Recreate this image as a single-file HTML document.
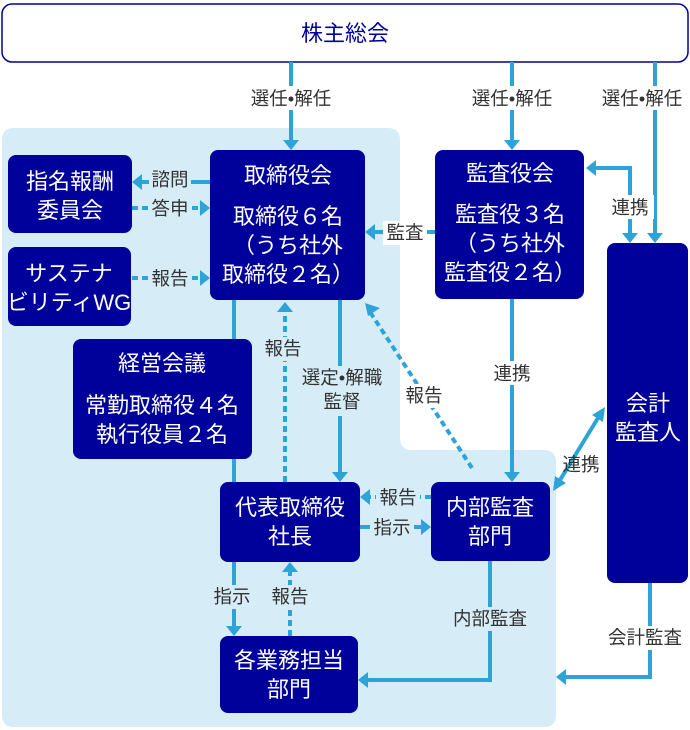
<!DOCTYPE html>
<html><head><meta charset="utf-8"><style>
html,body{margin:0;padding:0;background:#fff}
svg{display:block}
.b{fill:#00009a}
.w{fill:#fff;font-family:"Liberation Sans","Noto Sans CJK JP",sans-serif;font-size:22px;text-anchor:middle}
.l{fill:#333;font-family:"Liberation Sans","Noto Sans CJK JP",sans-serif;font-size:18.5px;text-anchor:middle}
.s{stroke:#2ea3d8;stroke-width:4;fill:none}
.d{stroke:#2ea3d8;stroke-width:4;fill:none;stroke-dasharray:6 4}
.a{fill:#2ea3d8}
</style></head><body>
<svg width="690" height="730" viewBox="0 0 690 730">
<path d="M14 128 H388 Q400 128 400 140 V438 Q400 450 412 450 H544 Q556 450 556 462 V715 Q556 727 544 727 H14 Q2 727 2 715 V140 Q2 128 14 128Z" fill="#d6ecf7"/>
<rect x="2" y="4" width="686" height="58" rx="10" fill="#fff" stroke="#00009a" stroke-width="1.5"/>
<text class="w" x="345" y="41" style="fill:#00009a">株主総会</text>

<g>
<path class="s" d="M291 62V142"/><path class="a" d="M283 140h16l-8 10z"/>
<path class="s" d="M512 62V142"/><path class="a" d="M504 140h16l-8 10z"/>
<path class="s" d="M655 62V235"/><path class="a" d="M647 233h16l-8 10z"/>
<path class="s" d="M596 168H630V235"/><path class="a" d="M596 160v16l-10-8z"/><path class="a" d="M622 233h16l-8 10z"/>
<path class="s" d="M210 182H140"/><path class="a" d="M142 174v16l-10-8z"/>
<path class="d" d="M132 208H202"/><path class="a" d="M200 200v16l10-8z"/>
<path class="d" d="M132 278H202"/><path class="a" d="M200 270v16l10-8z"/>
<path class="s" d="M435 232H373"/><path class="a" d="M375 224v16l-10-8z"/>
<path class="s" d="M234 300V339M234 459V482"/>
<path class="d" d="M285 482V310"/><path class="a" d="M277 312h16l-8 -10z"/>
<path class="s" d="M340 300V474"/><path class="a" d="M332 472h16l-8 10z"/>
<path class="d" d="M472 468L370 312"/><path class="a" d="M365 303l15 5 -12 8z"/>
<path class="s" d="M512 299V474"/><path class="a" d="M504 472h16l-8 10z"/>
<path class="s" d="M560 480L598 418"/><path class="a" d="M553 491l2-15 11 7z"/><path class="a" d="M605 407l-2 15 -11-7z"/>
<path class="d" d="M431 497H368"/><path class="a" d="M370 489v16l-10-8z"/>
<path class="s" d="M360 527H423"/><path class="a" d="M421 519v16l10-8z"/>
<path class="s" d="M234 562V628"/><path class="a" d="M226 626h16l-8 10z"/>
<path class="d" d="M290 636V570"/><path class="a" d="M282 572h16l-8-10z"/>
<path class="s" d="M490 561V680H366"/><path class="a" d="M368 672v16l-10-8z"/>
<path class="s" d="M650 583V677H564"/><path class="a" d="M566 669v16l-10-8z"/>
</g>

<g>
<rect x="242" y="86" width="98" height="24" fill="#fff"/><text class="l" x="291" y="105">選任•解任</text>
<rect x="463" y="86" width="98" height="24" fill="#fff"/><text class="l" x="512" y="105">選任•解任</text>
<rect x="593" y="86" width="97" height="24" fill="#fff"/><text class="l" x="642" y="105">選任•解任</text>
<rect x="606" y="195" width="48" height="24" fill="#fff"/><text class="l" x="630" y="214">連携</text>
<rect x="149" y="168" width="42" height="24" fill="#d6ecf7"/><text class="l" x="170" y="186">諮問</text>
<rect x="149" y="197" width="42" height="24" fill="#d6ecf7"/><text class="l" x="170" y="215">答申</text>
<rect x="149" y="267" width="42" height="24" fill="#d6ecf7"/><text class="l" x="170" y="285">報告</text>
<rect x="383" y="221" width="44" height="24" fill="#fff"/><text class="l" x="405" y="239">監査</text>
<rect x="260" y="337" width="46" height="24" fill="#d6ecf7"/><text class="l" x="283" y="355">報告</text>
<rect x="294" y="366" width="96" height="50" fill="#d6ecf7"/><text class="l" x="342" y="384">選定•解職</text><text class="l" x="342" y="408">監督</text>
<rect x="400" y="384" width="46" height="24" fill="#fff"/><text class="l" x="424" y="402">報告</text>
<rect x="488" y="361" width="48" height="24" fill="#fff"/><text class="l" x="512" y="380">連携</text>
<text class="l" x="581" y="471">連携</text>
<rect x="376" y="486" width="44" height="24" fill="#d6ecf7"/><text class="l" x="398" y="504">報告</text>
<rect x="370" y="516" width="44" height="24" fill="#d6ecf7"/><text class="l" x="392" y="534">指示</text>
<rect x="209" y="585" width="46" height="24" fill="#d6ecf7"/><text class="l" x="232" y="603">指示</text>
<rect x="267" y="585" width="46" height="24" fill="#d6ecf7"/><text class="l" x="290" y="603">報告</text>
<rect x="444" y="607" width="92" height="24" fill="#d6ecf7"/><text class="l" x="490" y="625">内部監査</text>
<rect x="600" y="626" width="90" height="24" fill="#fff"/><text class="l" x="645" y="644">会計監査</text>
</g>

<rect class="b" x="210" y="150" width="155" height="150" rx="8"/>
<text class="w" x="288" y="183">取締役会</text>
<text class="w" x="288" y="224">取締役６名</text>
<text class="w" x="288" y="253">（うち社外</text>
<text class="w" x="288" y="282">取締役２名）</text>

<rect class="b" x="8" y="155" width="124" height="78" rx="8"/>
<text class="w" x="70" y="189">指名報酬</text><text class="w" x="70" y="218">委員会</text>

<rect class="b" x="8" y="247" width="123" height="79" rx="8"/>
<text class="w" x="69" y="281">サステナ</text><text class="w" x="69" y="310">ビリティWG</text>

<rect class="b" x="73" y="339" width="179" height="120" rx="8"/>
<text class="w" x="162" y="371">経営会議</text>
<text class="w" x="162" y="413">常勤取締役４名</text>
<text class="w" x="162" y="442">執行役員２名</text>

<rect class="b" x="435" y="150" width="149" height="149" rx="8"/>
<text class="w" x="510" y="181">監査役会</text>
<text class="w" x="510" y="222">監査役３名</text>
<text class="w" x="510" y="251">（うち社外</text>
<text class="w" x="510" y="280">監査役２名）</text>

<rect class="b" x="607" y="243" width="81" height="340" rx="8"/>
<text class="w" x="648" y="411">会計</text><text class="w" x="648" y="440">監査人</text>

<rect class="b" x="220" y="482" width="140" height="80" rx="8"/>
<text class="w" x="290" y="515">代表取締役</text><text class="w" x="290" y="544">社長</text>

<rect class="b" x="431" y="482" width="119" height="79" rx="8"/>
<text class="w" x="490" y="515">内部監査</text><text class="w" x="490" y="544">部門</text>

<rect class="b" x="220" y="636" width="138" height="77" rx="8"/>
<text class="w" x="289" y="668">各業務担当</text><text class="w" x="289" y="697">部門</text>
</svg>
</body></html>
